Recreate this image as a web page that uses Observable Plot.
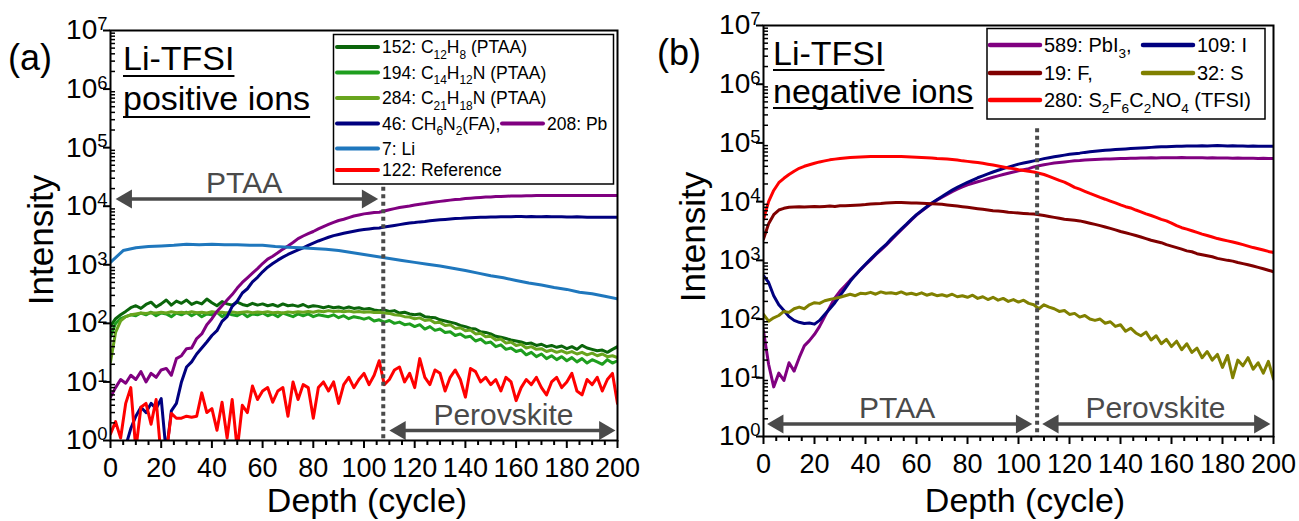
<!DOCTYPE html>
<html><head><meta charset="utf-8">
<script src="https://cdn.jsdelivr.net/npm/d3@7"></script>
<script src="https://cdn.jsdelivr.net/npm/@observablehq/plot@0.6"></script>
<style>
html,body{margin:0;padding:0;background:#fff;}
#root{position:relative;width:1299px;height:521px;overflow:hidden;font-family:"Liberation Sans",Arial,sans-serif;}
#root .panel{position:absolute;top:0;}
#root svg.overlay{position:absolute;left:0;top:0;pointer-events:none;}
</style></head><body><div id="root"></div>
<script>
// ---------------- DATA ----------------
// Depth grids (cycles): most series sampled every 2 cycles, Li every 5 cycles
// Panel (a): Li-TFSI positive ions
const a152 = [90,120,140,160,185,200,180,210,230,190, 215,250,205,240,220,250,210,230,215,260, 225,200,235,215,205,230,210,200,220,205, 215,200,210,195,215,200,205,195,210,190, 200,195,185,195,185,190,180,190,180,185, 175,180,170,165,170,160,165,150,155,145, 140,145,130,127,125,115,110,105,100,92, 88,82,80,72,70,66,60,58,55,52, 50,48,45,46,42,44,40,42,39,41, 37,40,36,42,38,36,34,35,32,36, 40];
const a194 = [60,100,120,130,140,135,150,140,155,135, 150,145,130,150,140,155,135,150,130,145, 140,155,130,150,140,135,150,130,145,140, 150,135,145,130,150,140,130,145,135,145, 130,140,135,130,140,125,135,120,130,125, 118,125,110,115,105,112,100,105,95,98, 88,95,80,88,76,80,70,72,62,66, 58,60,50,54,46,48,40,43,36,38, 33,35,29,32,27,30,25,28,24,27, 23,26,22,25,21,24,22,20,24,21, 23];
const a284 = [22,70,110,130,140,145,150,148,152,150, 155,150,158,152,155,150,158,152,155,150, 158,153,155,150,157,152,155,158,152,156, 153,158,152,155,150,157,153,158,155,160, 155,162,158,165,160,163,158,162,156,160, 155,158,153,155,150,148,140,138,130,128, 120,124,112,115,102,104,92,95,82,84, 75,77,66,68,59,60,52,54,46,48, 42,44,38,40,36,37,33,35,32,34, 31,33,30,32,29,31,28,30,27,28, 26];
const a46 = [0.3,0.3,0.4,0.8,1.6,2.6,3.7,3.0,4.3,3.5, 5.2,0.6,3.2,4.3,10,18,22,30,38,48, 62,75,108,130,195,240,330,390,510,610, 760,910,1050,1200,1350,1500,1650,1800,1950,2150, 2350,2550,2750,2950,3150,3300,3450,3600,3750,3900, 4000,4100,4200,4250,4400,4550,4700,4850,5000,5150, 5250,5400,5500,5650,5750,5850,5950,6050,6150,6200, 6300,6350,6400,6450,6500,6550,6550,6600,6600,6600, 6650,6650,6600,6650,6600,6600,6650,6600,6600,6600, 6550,6550,6600,6550,6500,6500,6500,6450,6450,6450, 6450];
const a208 = [5.5,8,11,9.5,13,11,15,10,14,12, 16,17,13,25,28,37,38,55,66,95, 120,160,200,250,310,400,500,600,720,860, 1050,1250,1400,1600,1850,2100,2400,2800,3100,3400, 3700,4100,4500,4900,5300,5700,6000,6400,6800,7100, 7400,7600,7800,7900,8300,8700,9100,9500,9800,10100, 10500,10800,11100,11500,11800,12100,12400,12700,13000,13200, 13500,13700,13900,14100,14300,14400,14600,14700,14800,14900, 15000,15000,15100,15100,15200,15200,15200,15300,15300,15300, 15300,15300,15200,15300,15300,15300,15200,15300,15300,15200, 15200];
const a7 = [1100,1750,1950,2050,2100,2150,2250,2200,2250,2200, 2200,2150,2150,2050,2000,1950,1900,1850,1750,1620, 1500,1380,1280,1180,1100,1020,950,870,800,720, 650,600,540,490,450,410,380,340,320,290, 262];
const a122 = [1.3,2.1,1.1,4.3,8,0.7,3.7,4.3,1.9,5, 0.5,0.6,2.9,2.4,2.4,2.6,2.5,2.6,6.5,3, 3.5,1.5,4.5,1.1,5,0.7,4,3,8.5,5, 7,8,4.5,7,8,2.6,10,5,9,8, 2.4,8,10,7,10,4.3,9,12,8,11, 14,9,13,23,9,11,16,18,10,14, 8,25,12,9,16,14,7,12,16,11, 5.5,17,15,10,12,9,11,7,12,10, 4.8,8,11,9,12,8,6,10,12,8, 10,14,7,6,11,9,12,7,11,14, 4.3];

// Panel (b): Li-TFSI negative ions
const b589 = [63,17,7,12,9,18,13,22,35,43, 55,75,110,160,230,300,370,460,560,690, 840,1020,1250,1500,1800,2200,2700,3300,4000,4900, 5900,6900,8000,9300,10600,11900,13300,14800,16300,17800, 19300,20600,21800,23000,24500,26000,27500,29000,30500,32000, 33500,35000,36500,39000,41000,42500,44000,45500,46500,47500, 48500,49500,50000,51000,51500,52000,52500,53000,53500,54000, 54500,54500,55000,55000,55500,55500,56000,55500,56000,56000, 56000,56000,56500,56000,56000,56000,56000,55500,56000,55500, 55500,55500,55000,55500,55000,55000,55000,54500,55000,54500, 54500];
const b109 = [550,420,250,175,140,110,95,88,84,86, 82,95,120,150,190,250,330,440,560,700, 860,1050,1280,1550,1850,2300,2800,3400,4100,5000, 6000,7000,8200,9500,10800,12200,13900,15700,17500,19400, 21300,23300,25500,27500,29700,32000,34200,36500,38700,41000, 43500,45500,47500,49500,51500,54000,56000,58000,60000,62000, 64000,65500,67000,69000,70500,72000,73500,75000,76000,77000, 78000,79000,80000,81000,82000,83000,84000,85000,86000,86500, 87000,87500,88000,88500,89000,89000,89500,89000,89500,90000, 89500,89000,89500,89000,88500,88000,88500,88000,87500,88000, 87500];
const b19 = [2300,4200,6000,7200,7700,8000,8100,8200,8100,8200, 8300,8200,8300,8400,8300,8500,8500,8600,8700,8800, 8900,9100,9200,9300,9500,9600,9700,9700,9600,9500, 9500,9400,9300,9200,9100,9000,8800,8600,8400,8200, 8000,7800,7600,7400,7200,7000,6900,6800,6600,6500, 6400,6300,6200,6150,6000,5800,5600,5400,5200,5000, 4900,4800,4700,4500,4300,4100,3900,3700,3500,3300, 3100,2950,2800,2650,2500,2350,2200,2100,2000,1850, 1750,1650,1550,1450,1400,1300,1250,1200,1150,1080, 1040,1000,970,920,880,840,800,760,720,680, 640];
const b32 = [120,92,105,115,135,130,150,160,150,175, 190,185,205,215,225,235,250,265,250,275, 270,285,265,290,275,280,270,290,265,275, 260,280,255,270,250,260,245,265,240,250, 235,255,225,240,215,235,210,225,200,215, 195,210,185,175,150,175,160,150,135,140, 120,125,108,115,100,95,100,85,90,75, 80,62,70,58,52,60,44,52,38,45, 34,42,30,38,27,32,22,28,20,25, 15,24,10,20,16,22,14,18,12,19, 9.5];
const b280 = [5000,10000,15500,21000,25000,29000,33000,37000,40000,42500, 45000,47500,49500,51500,53000,54500,55500,56500,57000,57500, 58000,58500,58500,59000,59000,59000,58500,58500,58000,57500, 57000,56500,56000,55500,54500,54000,53000,52000,51000,49500, 48500,47500,46500,45000,43500,42000,40500,39000,37500,36500, 35000,34000,33000,32000,30500,29000,27000,25000,23000,21500, 19500,17500,16300,15000,13800,12800,11800,11000,10200,9500, 8800,8200,7800,7200,6700,6200,5800,5400,5000,4700, 4300,3900,3600,3400,3200,3000,2800,2650,2500,2350, 2250,2150,2050,1950,1850,1750,1650,1580,1500,1420, 1360];

const labelsA = ["152: C_{12}H_{8} (PTAA)", "194: C_{14}H_{12}N (PTAA)", "284: C_{21}H_{18}N (PTAA)", "46: CH_{6}N_{2}(FA),", "208: Pb", "7: Li", "122: Reference"];
const colorsA = ["#0b650b", "#1e9e1e", "#68a51e", "#00007f", "#800080", "#1f77bd", "#ff0000"];
const valuesA = [a152, a194, a284, a46, a208, a7, a122];
const stepsA  = [2, 2, 2, 2, 2, 5, 2];

const labelsB = ["589: PbI_{3},", "109: I", "19: F,", "32: S", "280: S_{2}F_{6}C_{2}NO_{4} (TFSI)"];
const colorsB = ["#800080", "#00007f", "#800000", "#808000", "#ff0000"];
const valuesB = [b589, b109, b19, b32, b280];
const stepsB  = [2, 2, 2, 2, 2];

// Annotations (data units: depth cycle, intensity)
const arrowsA = [{label: "PTAA", x1: 2, x2: 105.6, y: 13300, tx: 52.7}, {label: "Perovskite", x1: 110, x2: 199.2, y: 1.48, tx: 155}];
const arrowsB = [{label: "PTAA", x1: 1.4, x2: 105.4, y: 1.63, tx: 52.4}, {label: "Perovskite", x1: 109.3, x2: 198.8, y: 1.63, tx: 153.7}];
const dividerA = [{x: 107.6, top: 21000, bottom: 1}];
const dividerB = [{x: 107.3, top: 175000, bottom: 1}];

const xTicks = [0, 20, 40, 60, 80, 100, 120, 140, 160, 180, 200];
const yTicks = [1, 10, 100, 1000, 1e4, 1e5, 1e6, 1e7];

// ---------------- DRAWING ----------------
const FONT = '"Liberation Sans", Arial, sans-serif';
const root = d3.select("#root");
const xMinor = d3.range(0, 201, 5).filter(d => d % 20 !== 0);
const yMinor = [];
for (let e = 0; e < 7; e++) for (let k = 2; k <= 9; k++) yMinor.push(k * 10 ** e);

function rows(values, step) { return values.map((v, i) => ({c: i * step, v})); }

function panel(values, steps, colors, arrows, divider, dims) {
  const marks = [];
  values.forEach((vals, i) => {
    marks.push(Plot.line(rows(vals, steps[i]), {x: "c", y: "v", stroke: colors[i], strokeWidth: 3, clip: true}));
  });
  marks.push(
    Plot.ruleX(divider, {x: "x", y1: "top", y2: "bottom", stroke: "#4a4a4a", strokeWidth: 4, strokeDasharray: "4 3.5"}),
    Plot.ruleY(arrows, {y: "y", x1: "x1", x2: "x2", stroke: "#4a4a4a", strokeWidth: 3.5, insetLeft: 8, insetRight: 8}),
    Plot.dot(arrows, {x: "x1", y: "y", symbol: "triangle", r: 7, rotate: -90, dx: 10.9, fill: "#4a4a4a", stroke: "none"}),
    Plot.dot(arrows, {x: "x2", y: "y", symbol: "triangle", r: 7, rotate: 90, dx: -10.9, fill: "#4a4a4a", stroke: "none"}),
    Plot.text(arrows, {x: "tx", y: "y", text: "label", fontSize: 30, fill: "#4a4a4a", lineAnchor: "bottom", dy: -6}),
    Plot.axisX({ticks: xTicks, tickSize: 8, tickPadding: 9, fontSize: 27, label: null, strokeWidth: 2, tickFormat: d => String(d)}),
    Plot.axisX({ticks: xMinor, tickSize: 5, label: null, strokeWidth: 2, tickFormat: () => ""}),
    Plot.axisY({ticks: yTicks, tickSize: 7, tickPadding: -4, fontSize: 28, label: null, strokeWidth: 2, tickFormat: d => "10|" + Math.round(Math.log10(d))}),
    Plot.axisY({ticks: yMinor, tickSize: 5, dx: 5, label: null, strokeWidth: 1.5, tickFormat: () => ""}),
    Plot.frame({stroke: "black", strokeWidth: 2})
  );
  const svg = Plot.plot({
    width: dims.width, height: 521,
    marginLeft: dims.ml, marginRight: dims.mr, marginTop: dims.mt, marginBottom: dims.mb,
    x: {domain: [0, 200]},
    y: {type: "log", domain: [1, 1e7]},
    style: {background: "transparent", fontFamily: FONT, color: "black", overflow: "visible"},
    marks
  });
  d3.select(svg).selectAll('g[aria-label="y-axis tick label"] text').each(function () {
    const t = d3.select(this);
    const s = t.text();
    if (!s.includes("|")) return;
    const [base, exp] = s.split("|");
    t.text(base);
    t.append("tspan").attr("dy", "-0.5em").attr("font-size", "0.66em").text(exp);
  });
  root.append("div").attr("class", "panel").style("left", dims.left + "px").node().appendChild(svg);
}

panel(valuesA, stepsA, colorsA, arrowsA, dividerA, {left: 0, width: 650, ml: 110, mr: 33, mt: 30, mb: 81});
panel(valuesB, stepsB, colorsB, arrowsB, dividerB, {left: 650, width: 649, ml: 113, mr: 26, mt: 25, mb: 85});

// ---------------- OVERLAY TEXT & LEGENDS ----------------
const ov = root.append("svg").attr("class", "overlay").attr("width", 1299).attr("height", 521)
  .style("font-family", FONT);

function rich(sel, str, size) {
  const re = /_\{([^}]*)\}/g;
  let last = 0, m, shifted = false;
  const sh = size * 0.3;
  while ((m = re.exec(str))) {
    if (m.index > last) {
      sel.append("tspan").attr("dy", shifted ? -sh : null).text(str.slice(last, m.index));
      shifted = false;
    }
    sel.append("tspan").attr("font-size", size * 0.68).attr("dy", shifted ? null : sh).text(m[1]);
    shifted = true;
    last = re.lastIndex;
  }
  if (last < str.length) sel.append("tspan").attr("dy", shifted ? -sh : null).text(str.slice(last));
}

const titles = [
  {text: "(a)", x: 8, y: 70, size: 36},
  {text: "Li-TFSI", x: 123, y: 70, size: 34, underline: 6},
  {text: "positive ions", x: 123, y: 110, size: 34, underline: 7},
  {text: "(b)", x: 657, y: 65, size: 36},
  {text: "Li-TFSI", x: 773, y: 65, size: 34, underline: 5},
  {text: "negative ions", x: 773, y: 103, size: 34, underline: 5},
  {text: "Intensity", x: 53, y: 240, size: 35, rotate: true},
  {text: "Intensity", x: 705, y: 237, size: 35, rotate: true},
  {text: "Depth (cycle)", x: 367, y: 512, size: 34, anchor: "middle"},
  {text: "Depth (cycle)", x: 1025, y: 512, size: 34, anchor: "middle"}
];
titles.forEach(t => {
  const el = ov.append("text").attr("font-size", t.size).attr("fill", "black").text(t.text);
  if (t.rotate) {
    el.attr("transform", `translate(${t.x},${t.y}) rotate(-90)`).attr("text-anchor", "middle");
  } else {
    el.attr("x", t.x).attr("y", t.y).attr("text-anchor", t.anchor || "start");
  }
  if (t.underline) {
    const w = el.node().getComputedTextLength();
    ov.append("line").attr("x1", t.x).attr("x2", t.x + w).attr("y1", t.y + t.underline).attr("y2", t.y + t.underline)
      .attr("stroke", "black").attr("stroke-width", 2);
  }
});

function legend(box, entries, labels, colors, rowY, size, swLen, swW) {
  ov.append("rect").attr("x", box.x).attr("y", box.y).attr("width", box.w).attr("height", box.h)
    .attr("fill", "white").attr("stroke", "black").attr("stroke-width", 1.5);
  entries.forEach(e => {
    const cy = rowY[e.row];
    ov.append("line").attr("x1", e.x).attr("x2", e.x + swLen).attr("y1", cy).attr("y2", cy)
      .attr("stroke", colors[e.i]).attr("stroke-width", swW).attr("stroke-linecap", "round");
    const t = ov.append("text").attr("x", e.x + swLen + 4).attr("y", cy + size * 0.36).attr("font-size", size).attr("fill", "black");
    rich(t, labels[e.i], size);
  });
}
legend({x: 333.5, y: 34.5, w: 280, h: 149.5},
  [{i: 0, row: 0, x: 337}, {i: 1, row: 1, x: 337}, {i: 2, row: 2, x: 337}, {i: 3, row: 3, x: 337}, {i: 4, row: 3, x: 502}, {i: 5, row: 4, x: 337}, {i: 6, row: 5, x: 337}],
  labelsA, colorsA, [47, 72.5, 98, 123.5, 148.5, 170], 17.5, 41, 4);
legend({x: 987, y: 28.5, w: 278, h: 90.5},
  [{i: 0, row: 0, x: 990}, {i: 1, row: 0, x: 1143}, {i: 2, row: 1, x: 990}, {i: 3, row: 1, x: 1143}, {i: 4, row: 2, x: 990}],
  labelsB, colorsB, [45, 73, 100], 20, 50, 4.5);
</script>
</body></html>
